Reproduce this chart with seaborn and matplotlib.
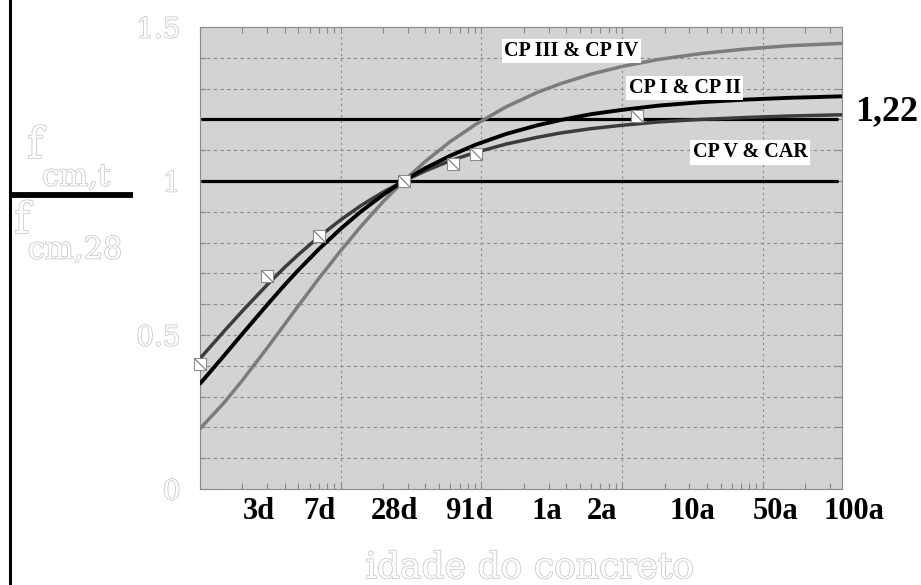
import matplotlib
matplotlib.use("Agg")
import matplotlib.pyplot as plt
import matplotlib.ticker as mticker
import matplotlib.patheffects as pe
import matplotlib.transforms as mtransforms
from matplotlib.lines import Line2D
from matplotlib.path import Path
import seaborn as sns

# ── DATA ──────────────────────────────────────────────────────
ages = [1, 1.5, 2, 3, 4, 5, 7, 10, 14, 20, 28, 40, 60, 91, 150, 250,
        365, 600, 1000, 1825, 3650, 7300, 15000, 36500]
cp3_cp4 = [0.196, 0.283, 0.353, 0.458, 0.535, 0.595, 0.684, 0.774, 0.854, 0.933,
           1.000, 1.064, 1.128, 1.184, 1.241, 1.288, 1.316, 1.347, 1.372, 1.395,
           1.414, 1.428, 1.439, 1.447]
cp1_cp2 = [0.342, 0.436, 0.504, 0.598, 0.663, 0.711, 0.779, 0.845, 0.902, 0.955,
           1.000, 1.042, 1.082, 1.118, 1.153, 1.181, 1.198, 1.217, 1.231, 1.245,
           1.256, 1.264, 1.270, 1.275]
cp5_car = [0.424, 0.515, 0.578, 0.663, 0.720, 0.761, 0.819, 0.874, 0.921, 0.964,
           1.000, 1.033, 1.066, 1.093, 1.120, 1.142, 1.156, 1.170, 1.181, 1.192,
           1.200, 1.206, 1.211, 1.215]

test_ages = [1, 3, 7, 28, 63, 91, 1280]
test_vals = [0.406, 0.69, 0.82, 1.0, 1.055, 1.088, 1.21]

ref_levels = [1.0, 1.2]
decades = [1, 10, 100, 1000, 10000]

ytick_vals = [0, 0.1, 0.2, 0.3, 0.4, 0.5, 0.6, 0.7, 0.8, 0.9, 1.0,
              1.1, 1.2, 1.3, 1.4, 1.5]
ytick_labels = ["0", "", "", "", "", "0.5", "", "", "", "", "1",
                "", "", "", "", "1.5"]

age_labels = ["3d", "7d", "28d", "91d", "1a", "2a", "10a", "50a", "100a"]
age_label_pos = [2.6, 7, 24, 82, 290, 720, 3160, 12400, 44700]

series_names = ["CP III & CP IV", "CP I & CP II", "CP V & CAR"]

# ── STYLE ─────────────────────────────────────────────────────
sns.set_style("ticks")
plt.rcParams["font.family"] = ["Liberation Serif", "DejaVu Serif"]

BG = "#d3d3d3"
GRIDC = "#8a8a8a"
outline = [pe.withStroke(linewidth=1.1, foreground="#c6c6c6")]

fig = plt.figure(figsize=(9.21, 5.85), dpi=100)
ax = fig.add_axes([0.2172, 0.1641, 0.6970, 0.7897])
ax.set_facecolor(BG)

ax.set_xscale("log")
ax.set_xlim(1, 36500)
ax.set_ylim(0, 1.5)

# grid
ax.set_yticks(ytick_vals)
ax.set_yticklabels(ytick_labels)
ax.yaxis.grid(True, color=GRIDC, linestyle=(0, (3, 3)), lw=0.8)
for d in decades[1:]:
    ax.axvline(d, color=GRIDC, linestyle=(0, (2, 3)), lw=0.8, zorder=0.9)

ax.xaxis.set_major_locator(mticker.FixedLocator(decades))
ax.xaxis.set_major_formatter(mticker.NullFormatter())
ax.xaxis.set_minor_locator(mticker.LogLocator(base=10, subs=range(2, 10)))
ax.xaxis.set_minor_formatter(mticker.NullFormatter())
ax.tick_params(axis="x", which="both", direction="in", top=True, bottom=True,
               length=4, color=GRIDC, width=0.8)
ax.tick_params(axis="y", which="major", direction="in", left=True, right=True,
               length=4, color=GRIDC, width=0.8, pad=14, labelsize=20,
               labelcolor="white")
for lab in ax.get_yticklabels():
    lab.set_fontfamily("DejaVu Serif")
    lab.set_path_effects(outline)

for sp in ax.spines.values():
    sp.set_color(GRIDC)
    sp.set_linewidth(0.8)

# reference lines
for lvl in ref_levels:
    ax.axhline(lvl, xmin=0.003, xmax=0.992, color="black", lw=2.3, zorder=2)

# curves
sns.lineplot(x=ages, y=cp3_cp4, ax=ax, color="#7c7c7c", lw=2.5, zorder=3)
sns.lineplot(x=ages, y=cp5_car, ax=ax, color="#3c3c3c", lw=2.5, zorder=3)
sns.lineplot(x=ages, y=cp1_cp2, ax=ax, color="black", lw=2.8, zorder=3)

# test points
sns.scatterplot(x=test_ages, y=test_vals, ax=ax, marker="s", s=70,
                color="white", edgecolor="#8c8c8c", linewidth=0.8,
                zorder=5, clip_on=False)
diag = Path([(-0.5, 0.5), (0.5, -0.5)], [Path.MOVETO, Path.LINETO])
ax.plot(test_ages, test_vals, linestyle="none", marker=diag, markersize=8.3,
        markeredgecolor="#777777", markeredgewidth=0.8, zorder=6, clip_on=False)

# series labels
box = dict(boxstyle="square,pad=0.12", fc="white", ec="none")
for name, (xa, ya) in zip(series_names, [(0.578, 0.948), (0.755, 0.868), (0.857, 0.729)]):
    ax.text(xa, ya, name, transform=ax.transAxes, ha="center", va="center",
            fontsize=14.5, fontweight="bold", color="black", bbox=box, zorder=7)

fig.text(0.963, 0.8085, "1,22", ha="center", va="center", fontsize=26,
         fontweight="bold", color="black")

# age labels under the axis
trans = mtransforms.blended_transform_factory(ax.transData, ax.transAxes)
for lab, xp in zip(age_labels, age_label_pos):
    ax.text(xp, -0.065, lab, transform=trans, ha="center", va="baseline",
            fontsize=22, fontweight="bold", color="black", clip_on=False)

# x label
fig.text(0.575, 0.029, "idade do concreto", ha="center", va="center",
         fontsize=26, color="white", family="DejaVu Serif", path_effects=outline)

# y label as a fraction
ylab = [("f", 35, 146, 31), ("cm,t", 76, 177, 22),
        ("f", 22, 221, 31), ("cm,28", 75, 250, 22)]
for txt, px, py, fs in ylab:
    fig.text(px / 921, 1 - py / 585, txt, ha="center", va="center", fontsize=fs,
             color="white", family="DejaVu Serif", path_effects=outline)

fig.add_artist(Line2D([10 / 921, 133 / 921], [1 - 195 / 585, 1 - 195 / 585],
                      transform=fig.transFigure, color="black", lw=4.2,
                      solid_capstyle="butt"))
fig.add_artist(Line2D([10 / 921, 10 / 921], [0, 1],
                      transform=fig.transFigure, color="black", lw=2.2))

fig.savefig("out.png", dpi=100)
